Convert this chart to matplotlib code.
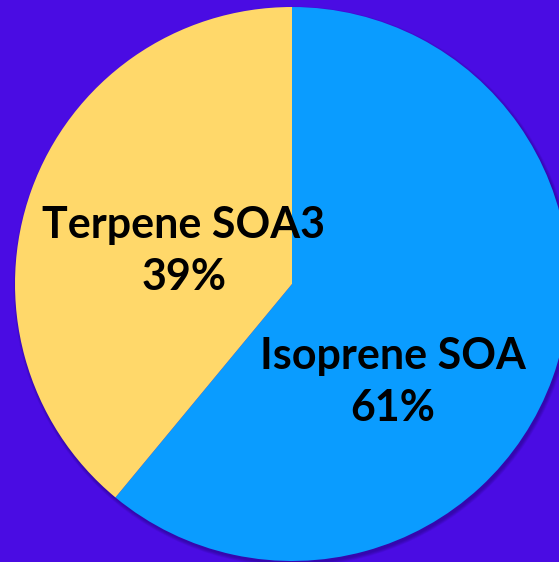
import matplotlib
matplotlib.use("Agg")
import matplotlib.pyplot as plt
from matplotlib.patches import Circle

categories = ["Isoprene SOA", "Terpene SOA3"]
shares = [61, 39]
colors = ["#0A9CFF", "#FFD86A"]
label_xy = [(393, 180), (184, 311)]

W, H = 559, 562
fig = plt.figure(figsize=(W / 100, H / 100), dpi=100)
fig.patch.set_facecolor("#4A0CE3")
ax = fig.add_axes([0, 0, 1, 1])
ax.set_facecolor("#4A0CE3")

cx, cy, r = 292, 278, 277

# soft drop shadow toward the lower right
for i in range(6):
    ax.add_patch(Circle((cx + 1.5, cy - 2.5), r + 3 - i * 0.6,
                        facecolor="#1a0060", edgecolor="none", alpha=0.08, zorder=1))

wedges, _ = ax.pie(shares, colors=colors, startangle=90, counterclock=False,
                   center=(cx, cy), radius=r, frame=True,
                   wedgeprops=dict(edgecolor="none", linewidth=0))
for w in wedges:
    w.set_zorder(2)
ax.set_xlim(0, W)
ax.set_ylim(0, H)
ax.set_aspect("equal")
ax.axis("off")

for name, val, (x, y) in zip(categories, shares, label_xy):
    ax.text(x, y, f"{name}\n{val}%", ha="center", va="center",
            fontsize=31, fontweight="bold", family="Lato", color="black",
            linespacing=1.35, zorder=3)

fig.savefig("out.png", dpi=100, facecolor=fig.get_facecolor())
